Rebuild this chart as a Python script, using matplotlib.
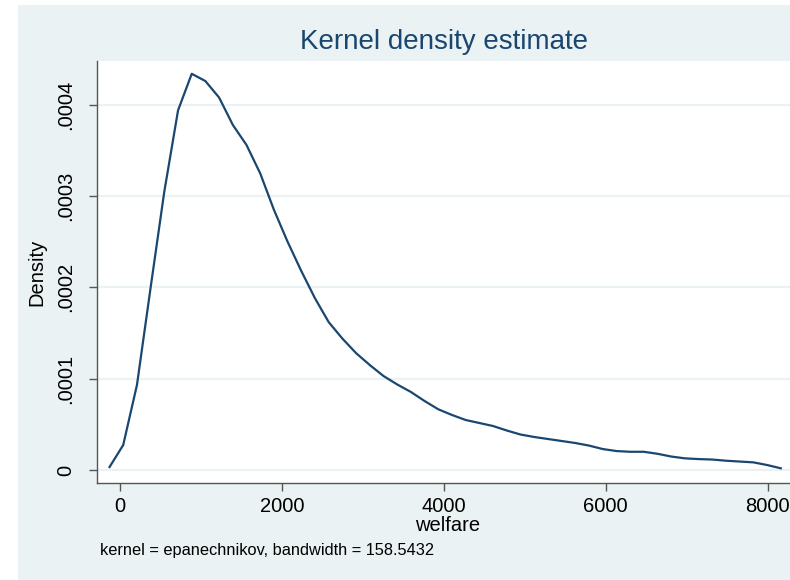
import matplotlib
matplotlib.use("Agg")
import matplotlib.pyplot as plt
from matplotlib.patches import Rectangle

# kdensity evaluation grid (welfare) and estimated density
welfare = [-133, 36, 206, 375, 544, 714, 883, 1052, 1221, 1391,
           1560, 1729, 1899, 2068, 2237, 2407, 2576, 2745, 2915, 3084,
           3253, 3423, 3592, 3761, 3931, 4100, 4269, 4439, 4608, 4777,
           4947, 5116, 5285, 5455, 5624, 5793, 5963, 6132, 6301, 6471,
           6640, 6809, 6979, 7148, 7317, 7487, 7656, 7825, 7995, 8164]
density = [0.0000033, 0.0000274, 0.0000932, 0.000200, 0.000305, 0.000394, 0.000434, 0.000426, 0.000408, 0.000378,
           0.000356, 0.000325, 0.000285, 0.000250, 0.000218, 0.000188, 0.000162, 0.000144, 0.000128, 0.000115,
           0.000103, 0.0000937, 0.0000855, 0.0000756, 0.0000665, 0.0000603, 0.0000548, 0.0000515, 0.0000482, 0.0000433,
           0.0000389, 0.0000362, 0.000034, 0.0000318, 0.0000296, 0.0000268, 0.000023, 0.0000208, 0.00002, 0.00002,
           0.0000178, 0.0000148, 0.0000128, 0.000012, 0.0000115, 0.0000102, 0.0000093, 0.0000084, 0.0000055, 0.0000019]

xticks = [0, 2000, 4000, 6000, 8000]
yticks = [0, 0.0001, 0.0002, 0.0003, 0.0004]
ytick_labels = ["0", ".0001", ".0002", ".0003", ".0004"]

NAVY = "#1a476f"
BG = "#eaf2f3"
AXIS = "#555555"

plt.rcParams["font.family"] = ["Liberation Sans", "DejaVu Sans"]

fig = plt.figure(figsize=(7.9, 5.8), dpi=100, facecolor="white")
fig.patches.append(Rectangle((18 / 790, 0), 1, 1 - 5 / 580, transform=fig.transFigure,
                             facecolor=BG, edgecolor="none", zorder=-10))

ax = fig.add_axes([97 / 790, 1 - 483 / 580, 1 - 97 / 790 + 0.01, (483 - 61) / 580])
ax.set_zorder(1)
ax.set_facecolor("white")
ax.plot(welfare, density, color=NAVY, lw=1.6, zorder=3)

ax.set_xlim(-288, 8278 + 0.01 * 790 / 0.0809)
ax.set_ylim(-0.0000142, 0.000448)
ax.set_xticks(xticks)
ax.set_yticks(yticks)
ax.set_yticklabels(ytick_labels, rotation=90, va="center")
ax.grid(axis="y", color=BG, lw=1.6, zorder=1)

for side in ("top", "right"):
    ax.spines[side].set_visible(False)
for side in ("left", "bottom"):
    ax.spines[side].set_color(AXIS)
    ax.spines[side].set_linewidth(1.0)
ax.tick_params(direction="out", length=6, width=1, color=AXIS, labelsize=14.5, pad=4)
ax.tick_params(axis="y", pad=9.5)

ax.set_xlabel("welfare", fontsize=14.5, labelpad=0)
ax.set_ylabel("Density", fontsize=14.5, labelpad=7)
# title centred on the visible plot region, not the overhanging axes
ax.text(0.5 * (97 + 790) / 790, 1 - 42 / 580, "Kernel density estimate", transform=fig.transFigure,
        fontsize=20, color=NAVY, ha="center", va="center")

fig.text(100 / 790, 1 - 551 / 580, "kernel = epanechnikov, bandwidth = 158.5432",
         fontsize=11.8, va="center", ha="left")

fig.savefig("out.png", dpi=100, facecolor="white")
